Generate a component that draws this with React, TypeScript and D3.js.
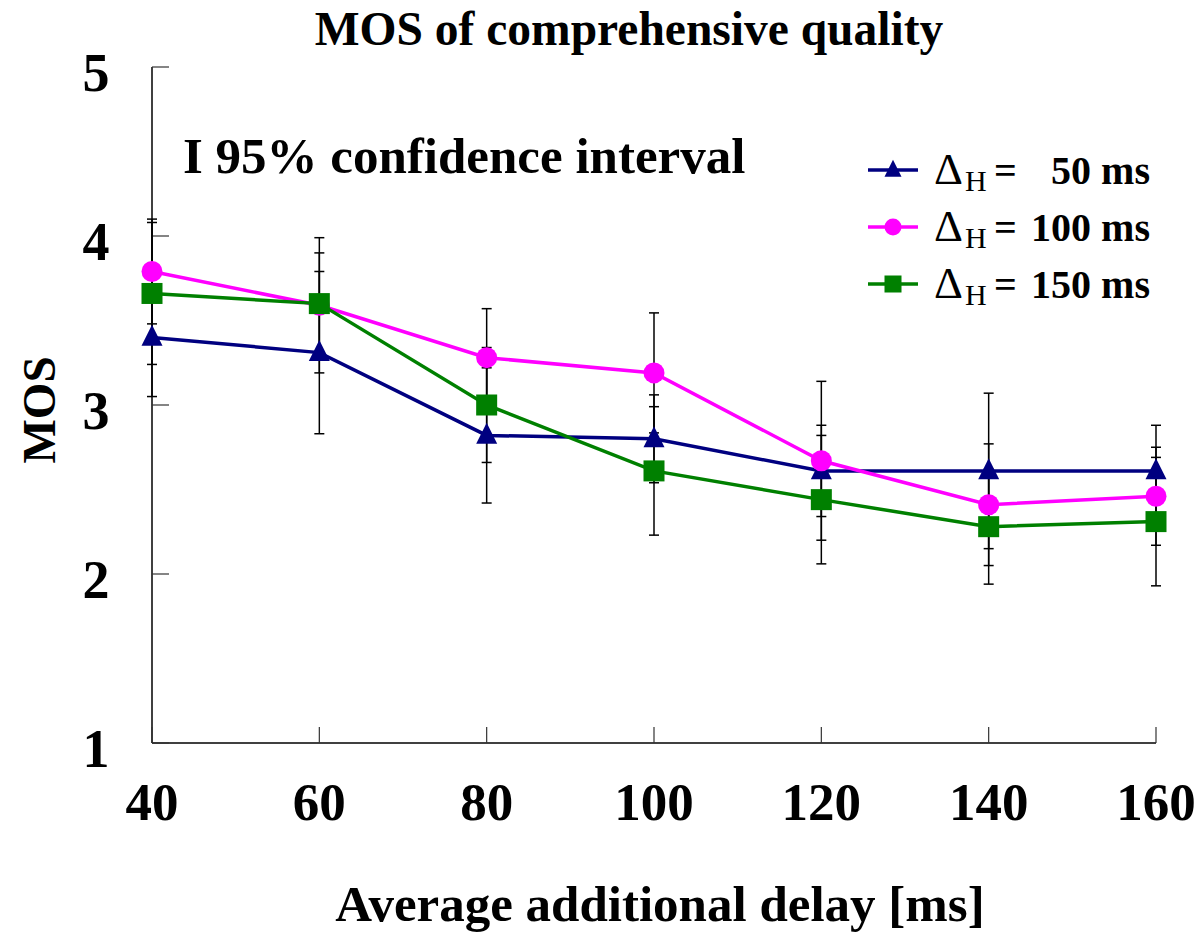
import React from 'react';
import * as d3 from 'd3';

const delays = [40, 60, 80, 100, 120, 140, 160];
const mos50 = [3.40, 3.31, 2.82, 2.80, 2.61, 2.61, 2.61];
const ci50 = [0.35, 0.48, 0.40, 0.26, 0.27, 0.46, 0.27];
const mos100 = [3.79, 3.59, 3.28, 3.19, 2.67, 2.41, 2.46];
const ci100 = [0.31, 0.40, 0.29, 0.355, 0.47, 0.36, 0.29];
const mos150 = [3.66, 3.60, 3.00, 2.61, 2.44, 2.28, 2.31];
const ci150 = [0.42, 0.30, 0.34, 0.38, 0.38, 0.34, 0.38];
const yTicks = [1, 2, 3, 4, 5];
const legendLabels = ['50 ms', '100 ms', '150 ms'];

const FONT = '"Liberation Serif", "Times New Roman", serif';

const series = [
    { label: legendLabels[0], values: mos50, ci: ci50, color: '#000080', shape: 'triangle' },
    { label: legendLabels[1], values: mos100, ci: ci100, color: '#FF00FF', shape: 'circle' },
    { label: legendLabels[2], values: mos150, ci: ci150, color: '#008000', shape: 'square' },
];

function Marker({ shape, x, y, color, size }: { shape: string; x: number; y: number; color: string; size: number }) {
    if (shape === 'circle') return <circle cx={x} cy={y} r={size / 2} fill={color} />;
    if (shape === 'square') return <rect x={x - size / 2} y={y - size / 2} width={size} height={size} fill={color} />;
    const h = size;
    return <path d={`M${x},${y - h * 0.6} L${x + size / 2},${y + h * 0.4} L${x - size / 2},${y + h * 0.4} Z`} fill={color} />;
}

export default function App() {
    const x = d3.scaleLinear().domain([40, 160]).range([152, 1156]);
    const y = d3.scaleLinear().domain([1, 5]).range([743, 67]);

    const line = d3.line<number>()
        .x((_, i) => x(delays[i]))
        .y(d => y(d));

    return (
        <svg width={1199} height={937} style={{ position: 'absolute', left: 0, top: 0, background: '#fff' }}
            fontFamily={FONT}>
            {/* title */}
            <text x={629} y={45} textAnchor="middle" fontSize={47.5} fontWeight="bold">MOS of comprehensive quality</text>

            {/* axes */}
            <line x1={x(40)} x2={x(40)} y1={y(5)} y2={y(1)} stroke="#000" strokeWidth={1.5} />
            <line x1={x(40)} x2={x(160)} y1={y(1)} y2={y(1)} stroke="#000" strokeWidth={1.5} />
            {yTicks.map(t => (
                <g key={'y' + t}>
                    <line x1={x(40)} x2={x(40) + 17} y1={y(t)} y2={y(t)} stroke="#333" strokeWidth={1.2} />
                    <text x={96} y={y(t) + 24} textAnchor="middle" fontSize={54} fontWeight="bold">{t}</text>
                </g>
            ))}
            {delays.map(d => (
                <g key={'x' + d}>
                    <line x1={x(d)} x2={x(d)} y1={y(1)} y2={y(1) - 16} stroke="#333" strokeWidth={1.2} />
                    <text x={x(d)} y={820} textAnchor="middle" fontSize={53} fontWeight="bold">{d}</text>
                </g>
            ))}
            <text x={660} y={921} textAnchor="middle" fontSize={51} fontWeight="bold">Average additional delay [ms]</text>
            <text transform={`translate(55,410) rotate(-90)`} textAnchor="middle" fontSize={47} fontWeight="bold">MOS</text>

            {/* error bars */}
            {series.map(s => s.values.map((v, i) => {
                const cx = x(delays[i]);
                const top = y(v + s.ci[i]);
                const bot = y(v - s.ci[i]);
                return (
                    <g key={s.label + 'e' + i} stroke="#000" strokeWidth={1.5}>
                        <line x1={cx} x2={cx} y1={top} y2={bot} />
                        <line x1={cx - 5} x2={cx + 5} y1={top} y2={top} />
                        <line x1={cx - 5} x2={cx + 5} y1={bot} y2={bot} />
                    </g>
                );
            }))}

            {/* lines + markers */}
            {series.map(s => (
                <g key={s.label}>
                    <path d={line(s.values) || ''} fill="none" stroke={s.color} strokeWidth={3.5} />
                    {s.values.map((v, i) => (
                        <Marker key={i} shape={s.shape} x={x(delays[i])} y={y(v)} color={s.color} size={21} />
                    ))}
                </g>
            ))}

            {/* annotation */}
            <text x={183} y={173} fontSize={51} fontWeight="bold">I 95% confidence interval</text>

            {/* legend */}
            {series.map((s, i) => {
                const ly = 170 + i * 57;
                return (
                    <g key={'leg' + s.label}>
                        <line x1={868} x2={918} y1={ly} y2={ly} stroke={s.color} strokeWidth={3.5} />
                        <Marker shape={s.shape} x={893} y={ly} color={s.color} size={17} />
                        <text x={934} y={ly + 14} fontSize={45}>Δ</text>
                        <text x={965} y={ly + 21} fontSize={30}>H</text>
                        <text x={994} y={ly + 14} fontSize={40} fontWeight="bold">=</text>
                        <text x={1150} y={ly + 14} textAnchor="end" fontSize={40} fontWeight="bold">{s.label}</text>
                    </g>
                );
            })}
        </svg>
    );
}
